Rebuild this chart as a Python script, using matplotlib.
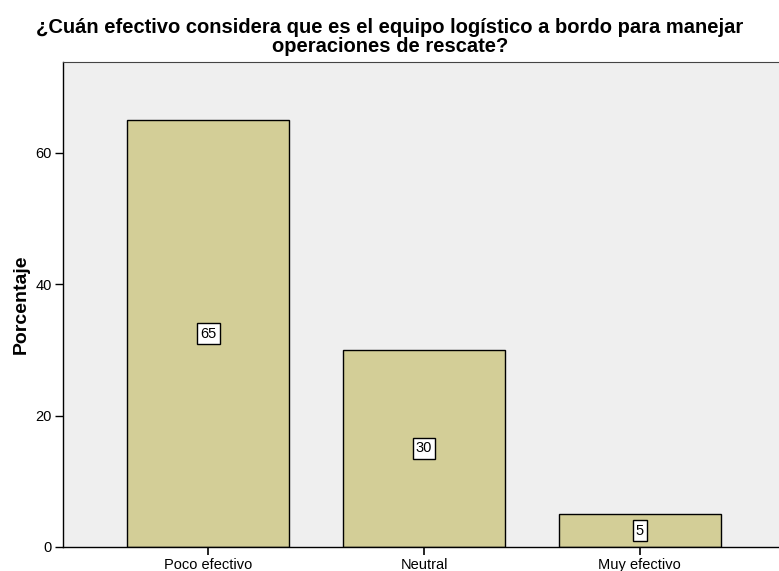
import matplotlib.pyplot as plt

categories = ["Poco efectivo", "Neutral", "Muy efectivo"]
percentages = [65, 30, 5]
y_ticks = [0, 20, 40, 60]

plt.rcParams['font.family'] = ['Liberation Sans', 'DejaVu Sans']

fig = plt.figure(figsize=(7.79, 5.71), dpi=100)
# axes run slightly past the right edge of the canvas
ax = fig.add_axes([63 / 779, 1 - 547 / 571, (785 - 63) / 779, (547 - 62) / 571])
ax.set_facecolor('#efefef')

x = range(len(categories))
bars = ax.bar(x, percentages, width=0.75, color='#d3ce97', edgecolor='black', linewidth=1.0)

for xi, v in zip(x, percentages):
    ax.text(xi, v / 2, str(v), ha='center', va='center', fontsize=10.5,
            bbox=dict(boxstyle='square,pad=0.22', facecolor='white', edgecolor='black', linewidth=1.0))

ax.set_xlim(-0.673, 2.673)
ax.set_ylim(0, 73.85)
ax.set_xticks(list(x))
ax.set_xticklabels(categories, fontsize=10.5)
ax.set_yticks(y_ticks)
ax.tick_params(axis='y', labelsize=10.5, length=6, width=1, pad=2)
ax.tick_params(axis='x', length=6, width=1.2, pad=2)

for side in ['left', 'bottom']:
    ax.spines[side].set_color('black')
    ax.spines[side].set_linewidth(1.0)
ax.spines['top'].set_color('#444444')
ax.spines['right'].set_visible(False)

ax.set_ylabel('Porcentaje', fontsize=14, fontweight='bold', labelpad=4)

fig.text(390 / 779, 1 - 37 / 571,
         '¿Cuán efectivo considera que es el equipo logístico a bordo para manejar\noperaciones de rescate?',
         ha='center', va='center', fontsize=14.5, fontweight='bold', linespacing=0.98)

fig.savefig('out.png', dpi=100)
